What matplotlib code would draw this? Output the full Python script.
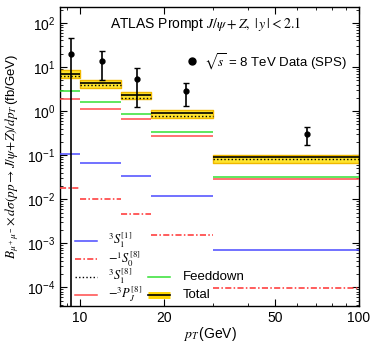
import numpy as np
import matplotlib
matplotlib.use("Agg")
import matplotlib.pyplot as plt
from matplotlib.lines import Line2D
from matplotlib.ticker import NullFormatter, FixedLocator, FixedFormatter

plt.rcParams['font.family'] = ['Liberation Sans', 'DejaVu Sans']
plt.rcParams['mathtext.fontset'] = 'stix'

# pT bins (GeV)
edges = [8.5, 10, 14, 18, 30, 100]

# theory curves per bin (fb/GeV)
s1_singlet = [0.108, 0.066, 0.034, 0.012, 6.9e-4]      # 3S1[1]
s0_octet = [0.0177, 0.0100, 0.0047, 0.00155, 9.6e-5]    # -1S0[8]
s1_octet = [6.4, 3.9, 2.0, 0.79, 0.082]                 # 3S1[8]
pj_octet = [1.85, 1.13, 0.65, 0.27, 0.0283]             # -3PJ[8]
feeddown = [2.86, 1.63, 0.86, 0.33, 0.0314]
total = [6.8, 4.4, 2.36, 0.92, 0.089]
total_hi = [8.6, 5.1, 2.67, 1.06, 0.101]
total_lo = [5.6, 3.4, 1.85, 0.69, 0.065]

# ATLAS data
data_x = [9.29, 11.98, 16.0, 24.0, 65.0]
data_y = [19.5, 13.9, 5.3, 2.9, 0.31]
data_up = [45, 23.1, 9.4, 4.4, 0.44]
data_lo = [1e-6, 5.1, 1.22, 1.31, 0.17]

y_major = [1e-4, 1e-3, 1e-2, 1e-1, 1, 10, 100]
y_labels = [r'$\mathdefault{10^{-4}}$', r'$\mathdefault{10^{-3}}$', r'$\mathdefault{10^{-2}}$',
            r'$\mathdefault{10^{-1}}$', r'$\mathdefault{10^{0}}$', r'$\mathdefault{10^{1}}$',
            r'$\mathdefault{10^{2}}$']

c_blue = '#4a4aff'
c_red = '#ff4a4a'
c_red2 = '#ff3030'
c_green = '#33e033'
dashdot = (0, (4, 1.5, 1, 1.5))
dotted = (0, (1, 1.6))

fig = plt.figure(figsize=(3.72, 3.48), dpi=100)
ax = fig.add_axes([60/372, 42/348, 299/372, 299/348])
ax.set_xscale('log')
ax.set_yscale('log')

lo_e = edges[:-1]
hi_e = edges[1:]

for i in range(len(total)):
    ax.fill_between([lo_e[i], hi_e[i]], total_lo[i], total_hi[i],
                    facecolor='#ffe52e', edgecolor='#f0b800', lw=1.0, zorder=2)
ax.hlines(total, lo_e, hi_e, color='black', lw=1.2, zorder=4)
ax.hlines(s1_octet, lo_e, hi_e, color='black', lw=1.0, linestyles=[dotted], zorder=4)
ax.hlines(feeddown, lo_e, hi_e, color=c_green, lw=1.1, zorder=3)
ax.hlines(pj_octet, lo_e, hi_e, color=c_red, lw=1.1, zorder=3)
ax.hlines(s1_singlet, lo_e, hi_e, color=c_blue, lw=1.1, zorder=3)
ax.hlines(s0_octet, lo_e, hi_e, color=c_red2, lw=1.1, linestyles=[dashdot], zorder=3)

yerr = [np.array(data_y) - np.array(data_lo), np.array(data_up) - np.array(data_y)]
ax.errorbar(data_x, data_y, yerr=yerr, fmt='o', color='black', ms=3.5,
            elinewidth=1.2, capsize=2.5, capthick=1.0, zorder=5)

ax.set_xlim(8.5, 100)
ax.set_ylim(3.8e-5, 230)

ax.xaxis.set_major_locator(FixedLocator([10, 20, 50, 100]))
ax.xaxis.set_minor_locator(FixedLocator([9, 30, 40, 60, 70, 80, 90]))
ax.xaxis.set_major_formatter(FixedFormatter(['10', '20', '50', '100']))
ax.xaxis.set_minor_formatter(NullFormatter())
y_minor = [m * 10.0**e for e in range(-5, 3) for m in range(2, 10)
           if 3.8e-5 < m * 10.0**e < 230]
ax.yaxis.set_major_locator(FixedLocator(y_major))
ax.yaxis.set_major_formatter(FixedFormatter(y_labels))
ax.yaxis.set_minor_locator(FixedLocator(y_minor))
ax.yaxis.set_minor_formatter(NullFormatter())
ax.tick_params(which='both', direction='in', top=True, right=True, labelsize=10)
ax.tick_params(which='major', length=5, width=0.8)
ax.tick_params(which='minor', length=2.5, width=0.6)
for sp in ax.spines.values():
    sp.set_linewidth(1.0)

ax.set_xlabel(r'$p_T\,$(GeV)', fontsize=10)
ax.xaxis.set_label_coords(0.5, -0.065)
ax.set_ylabel(r'$B_{\mu^+\mu^-}\!\times d\sigma(pp\to J/\psi\!+\!Z)/dp_T\,$(fb/GeV)',
              fontsize=9.5)
ax.yaxis.set_label_coords(-0.13, 0.5)

ax.text(0.487, 0.943, r'ATLAS Prompt $J/\psi + Z,\ |\,y\,| < 2.1$', transform=ax.transAxes,
        ha='center', va='center', fontsize=10)
ax.plot([0.442], [0.818], 'o', color='black', ms=5, transform=ax.transAxes, clip_on=False)
ax.text(0.48, 0.818, r'$\sqrt{s}$ = 8 TeV Data (SPS)', transform=ax.transAxes,
        ha='left', va='center', fontsize=9.5)

# legend, drawn in axes coordinates
leg_rows = [0.219, 0.158, 0.098, 0.038]
leg_col1 = [
    (r'$^3S_1^{[1]}$', dict(color=c_blue, lw=1.1)),
    (r'$-^1S_0^{[8]}$', dict(color=c_red2, lw=1.1, ls=dashdot)),
    (r'$^3S_1^{[8]}$', dict(color='black', lw=1.0, ls=dotted)),
    (r'$-^3P_J^{[8]}$', dict(color=c_red, lw=1.1)),
]
for (lab, st), yy in zip(leg_col1, leg_rows):
    ax.add_line(Line2D([0.050, 0.124], [yy, yy], transform=ax.transAxes, **st))
    ax.text(0.160, yy, lab, transform=ax.transAxes, ha='left', va='center', fontsize=9)

yy = leg_rows[2]
ax.add_line(Line2D([0.294, 0.368], [yy, yy], transform=ax.transAxes, color=c_green, lw=1.1))
ax.text(0.411, yy, 'Feeddown', transform=ax.transAxes, ha='left', va='center', fontsize=9.5)
yy = leg_rows[3]
ax.add_line(Line2D([0.294, 0.368], [yy, yy], transform=ax.transAxes, color='#ffd500', lw=5,
                   solid_capstyle='butt'))
ax.add_line(Line2D([0.294, 0.368], [yy, yy], transform=ax.transAxes, color='black', lw=1.2))
ax.text(0.411, yy, 'Total', transform=ax.transAxes, ha='left', va='center', fontsize=9.5)

fig.savefig('out.png', dpi=100)
